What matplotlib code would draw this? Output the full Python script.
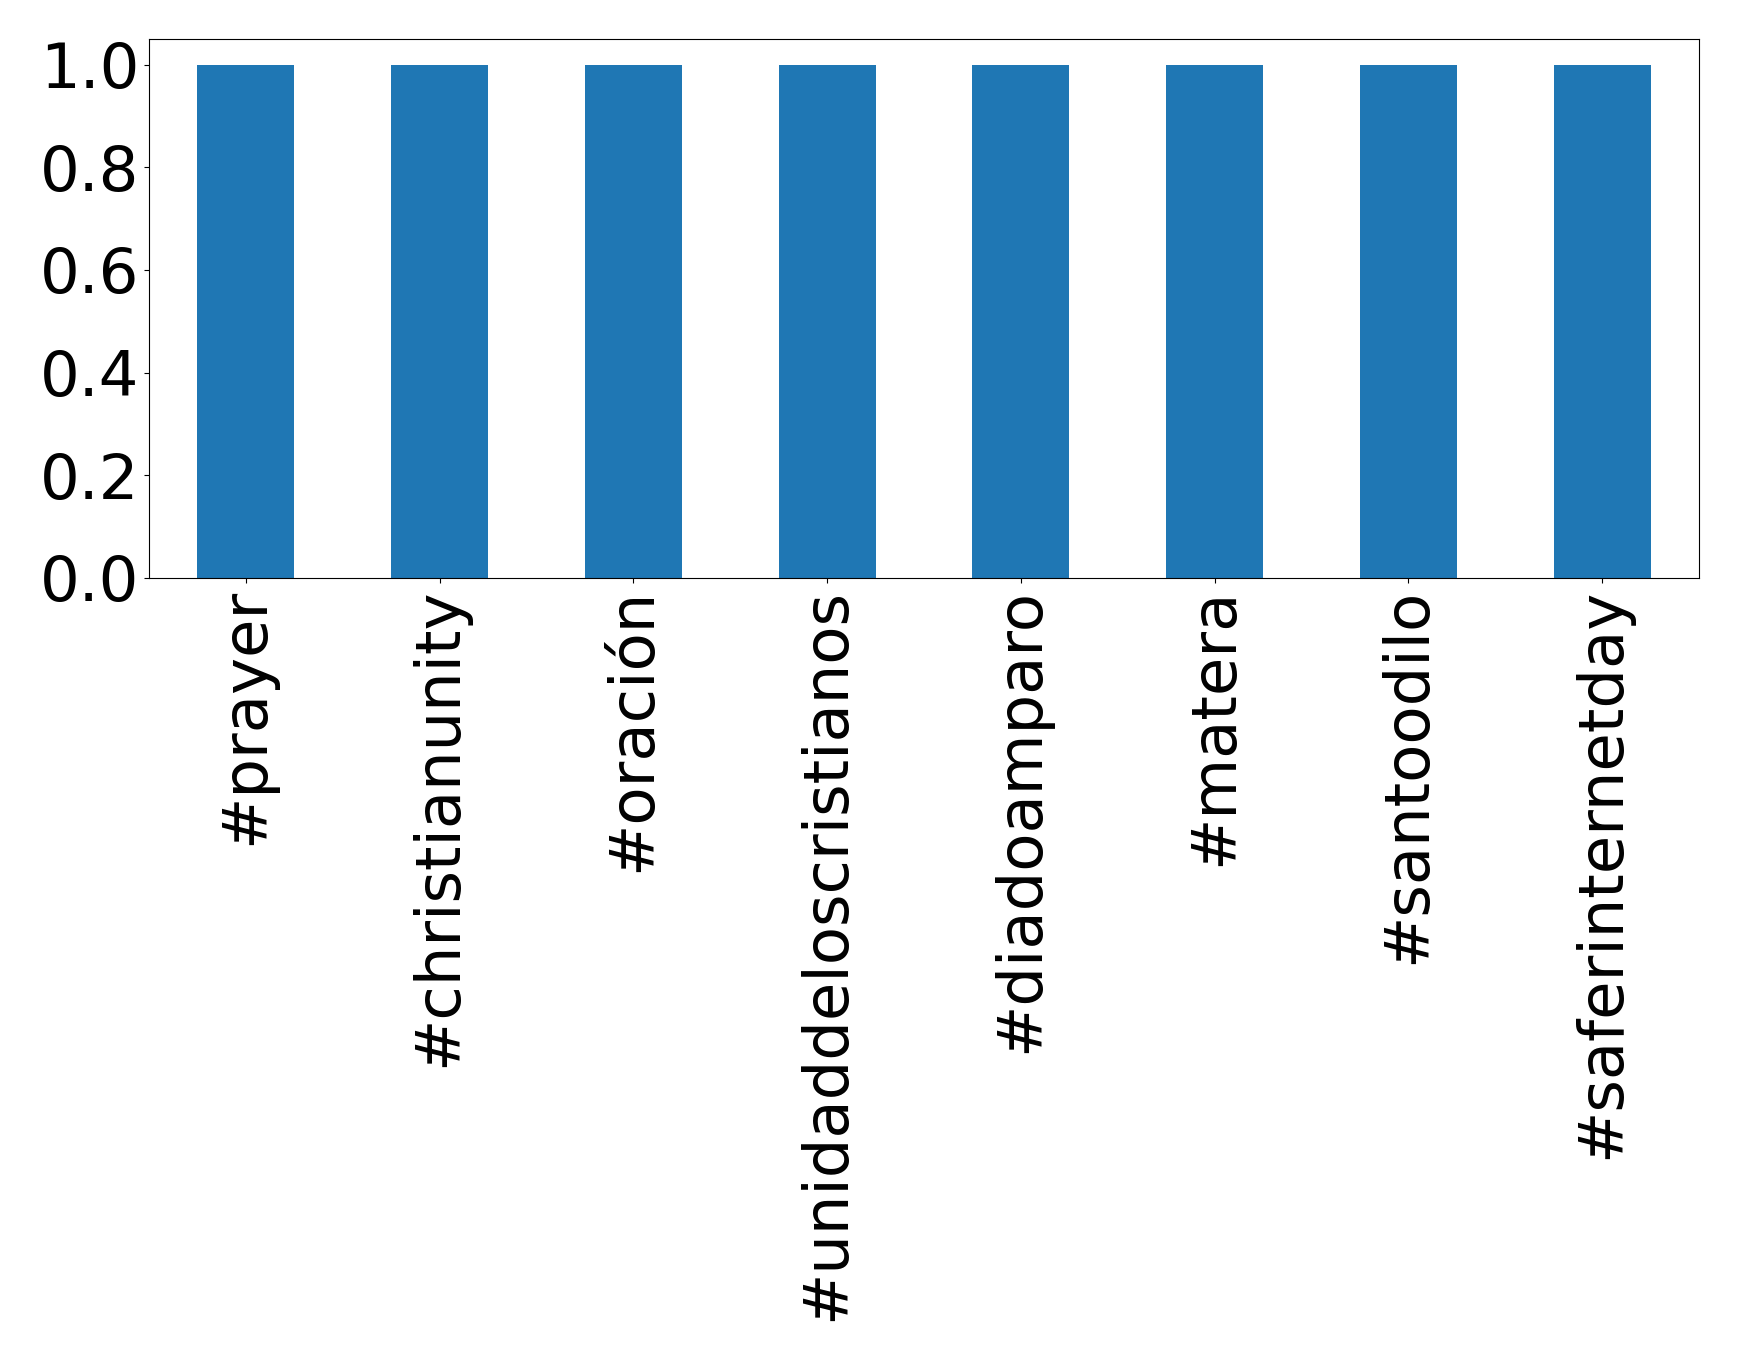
import matplotlib
matplotlib.use("Agg")
import matplotlib.pyplot as plt

categories = ["#prayer", "#christianunity", "#oración", "#unidaddeloscristianos",
              "#diadoamparo", "#matera", "#santoodilo", "#saferinternetday"]
values = [1, 1, 1, 1, 1, 1, 1, 1]

fig = plt.figure(figsize=(17.39, 13.61), dpi=100)
ax = fig.add_axes([149/1739, 1 - 578/1361, (1699-149)/1739, (578-39)/1361])
x = range(len(categories))
ax.bar(x, values, width=0.5, color="#1f77b4")
ax.set_xlim(-0.5, len(categories) - 0.5)
ax.set_ylim(0, 1.05)
ax.set_xticks(list(x))
ax.set_xticklabels(categories, rotation=90, fontsize=45)
ax.set_yticks([0, 0.2, 0.4, 0.6, 0.8, 1.0])
ax.set_yticklabels(["0.0", "0.2", "0.4", "0.6", "0.8", "1.0"], fontsize=45)
fig.savefig("out.png", dpi=100)
